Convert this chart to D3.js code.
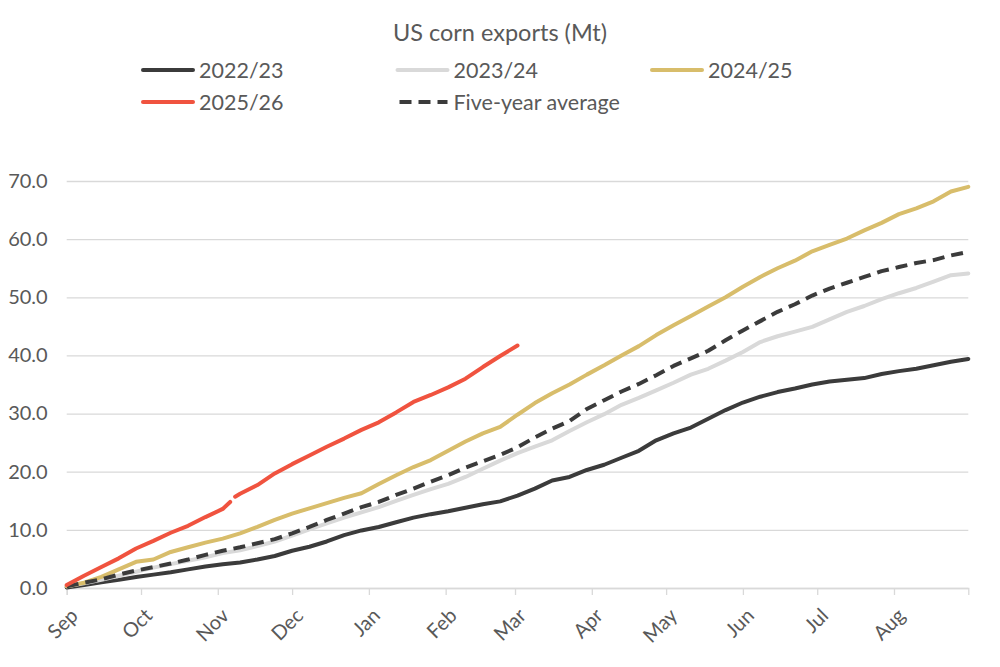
<!DOCTYPE html>
<html lang="en">
<head>
<meta charset="utf-8">
<title>US corn exports</title>
<style>
  body { margin: 0; background: #fff; font-family: Lato, "Open Sans", sans-serif; }
  svg text { fill: #595959; }
</style>
<script src="https://d3js.org/d3.v7.min.js"></script>
</head>
<body>
<div id="chart"></div>
<script>
// Cumulative weekly exports (Mt), week 0 = 1 Sep
const exp2223 = [0.1, 0.5, 1.0, 1.4, 1.9, 2.3, 2.7, 3.2, 3.7, 4.1, 4.4, 4.9, 5.5, 6.4, 7.1, 8.0, 9.1, 9.9, 10.5, 11.3, 12.1, 12.7, 13.2, 13.8, 14.4, 14.9, 15.9, 17.1, 18.5, 19.1, 20.3, 21.2, 22.4, 23.6, 25.4, 26.6, 27.6, 29.1, 30.6, 31.9, 32.9, 33.7, 34.3, 35.0, 35.5, 35.8, 36.1, 36.8, 37.3, 37.7, 38.3, 38.9, 39.4];
const exp2324 = [0.3, 0.8, 1.4, 2.1, 2.8, 3.5, 4.1, 4.7, 5.3, 6.0, 6.5, 7.2, 8.0, 9.0, 10.1, 11.1, 12.1, 13.0, 13.9, 15.0, 16.0, 17.0, 17.9, 19.1, 20.5, 21.9, 23.2, 24.3, 25.4, 27.0, 28.5, 29.9, 31.5, 32.7, 34.0, 35.3, 36.7, 37.7, 39.1, 40.6, 42.3, 43.3, 44.1, 44.9, 46.2, 47.5, 48.5, 49.7, 50.7, 51.6, 52.7, 53.8, 54.1];
const exp2425 = [0.3, 0.9, 1.9, 3.2, 4.5, 4.9, 6.2, 7.0, 7.8, 8.5, 9.4, 10.5, 11.7, 12.8, 13.7, 14.6, 15.5, 16.3, 17.9, 19.4, 20.8, 22.0, 23.6, 25.2, 26.6, 27.7, 29.8, 31.8, 33.5, 35.0, 36.7, 38.3, 40.0, 41.6, 43.5, 45.2, 46.8, 48.4, 50.0, 51.8, 53.5, 55.0, 56.3, 57.9, 59.0, 60.1, 61.5, 62.8, 64.3, 65.3, 66.5, 68.2, 69.0];
const expAvg = [0.3, 0.9, 1.5, 2.3, 3.0, 3.6, 4.2, 4.9, 5.7, 6.4, 7.0, 7.7, 8.4, 9.4, 10.5, 11.7, 12.8, 13.9, 14.8, 16.0, 17.1, 18.3, 19.4, 20.7, 21.8, 22.9, 24.2, 25.9, 27.4, 28.7, 30.8, 32.3, 33.8, 35.1, 36.6, 38.2, 39.5, 40.8, 42.6, 44.3, 45.9, 47.5, 48.8, 50.3, 51.5, 52.5, 53.5, 54.5, 55.2, 55.9, 56.4, 57.2, 57.8];
// 2025/26 has a short break in early November
const weeks2526 = [0, 1, 2, 3, 4, 5, 6, 7, 8, 9, 9.46, 9.6, 9.8, 10, 11, 12, 13, 14, 15, 16, 17, 18, 19, 20, 21, 22, 23, 24, 25, 26];
const exp2526 = [0.5, 2.1, 3.6, 5.1, 6.8, 8.1, 9.5, 10.7, 12.2, 13.6, 14.8, null, 15.7, 16.2, 17.7, 19.7, 21.3, 22.8, 24.3, 25.7, 27.2, 28.5, 30.2, 32.0, 33.2, 34.5, 36.0, 38.0, 39.9, 41.7];

const seriesNames = ['2022/23', '2023/24', '2024/25', '2025/26', 'Five-year average'];
const yTicks = [0, 10, 20, 30, 40, 50, 60, 70];

const start = new Date(2022, 8, 1);
const end = new Date(2023, 7, 31);
const wk = i => d3.timeDay.offset(start, Math.round(i * 7 * 24) / 24);

const width = 1000, height = 667;
const svg = d3.select('#chart').append('svg')
  .attr('width', width).attr('height', height);

const x = d3.scaleTime().domain([start, end]).range([66.7, 968.3]);
const y = d3.scaleLinear().domain([0, 70]).range([588, 181]);

// gridlines + y labels
svg.append('g')
  .attr('transform', 'translate(66.7,0)')
  .call(d3.axisLeft(y).tickValues(yTicks).tickFormat(d3.format('.1f'))
    .tickSize(-(968.3 - 66.7)).tickPadding(19))
  .call(g => g.select('.domain').remove())
  .call(g => g.selectAll('line').attr('stroke', '#d9d9d9').attr('stroke-width', 1.3))
  .call(g => g.selectAll('text').attr('font-size', 20).attr('font-family', 'Lato, sans-serif').style('fill', '#595959'));

// x axis
const xAxis = svg.append('g')
  .attr('transform', 'translate(0,588)')
  .call(d3.axisBottom(x).ticks(d3.timeMonth.every(1)).tickFormat(d3.timeFormat('%b'))
    .tickSizeOuter(0).tickSize(7));
xAxis.select('.domain').attr('stroke', '#d9d9d9').attr('stroke-width', 1.3);
xAxis.selectAll('line').attr('stroke', '#d9d9d9').attr('stroke-width', 1.3);
xAxis.selectAll('text')
  .attr('font-size', 20).attr('font-family', 'Lato, sans-serif').style('fill', '#595959')
  .attr('text-anchor', 'end')
  .attr('dy', '0.35em')
  .attr('transform', 'translate(7,24) rotate(-45)')
  .attr('y', 0).attr('x', 0);

const line = d3.line()
  .defined(d => d[1] != null)
  .x(d => x(wk(d[0])))
  .y(d => y(d[1]));

const lines = [
  { data: exp2223.map((v, i) => [i, v]), color: '#3b3b3b', dash: null },
  { data: exp2324.map((v, i) => [i, v]), color: '#d9d9d9', dash: null },
  { data: exp2425.map((v, i) => [i, v]), color: '#d8bd6b', dash: null },
  { data: expAvg.map((v, i) => [i, v]), color: '#3b3b3b', dash: '12,7' },
  { data: exp2526.map((v, i) => [weeks2526[i], v]), color: '#f0533f', dash: null }
];

svg.append('g').selectAll('path')
  .data(lines)
  .join('path')
  .attr('d', d => line(d.data))
  .attr('fill', 'none')
  .attr('stroke', d => d.color)
  .attr('stroke-width', 4)
  .attr('stroke-linejoin', 'round')
  .attr('stroke-linecap', d => d.dash ? 'butt' : 'round')
  .attr('stroke-dasharray', d => d.dash);

// title
svg.append('text')
  .attr('x', 500).attr('y', 41)
  .attr('text-anchor', 'middle')
  .attr('font-size', 23.5)
  .text('US corn exports (Mt)');

// legend
const legendItems = [
  { name: seriesNames[0], color: '#3b3b3b', dash: null },
  { name: seriesNames[1], color: '#d9d9d9', dash: null },
  { name: seriesNames[2], color: '#d8bd6b', dash: null },
  { name: seriesNames[3], color: '#f0533f', dash: null },
  { name: seriesNames[4], color: '#3b3b3b', dash: '12,7' }
];
const lg = svg.append('g').selectAll('g')
  .data(legendItems)
  .join('g')
  .attr('transform', (d, i) => 'translate(' + (143 + (i % 3) * 254.5) + ',' + (70 + Math.floor(i / 3) * 32) + ')');
lg.append('line')
  .attr('x1', d => d.dash ? 2 : 0).attr('x2', 50)
  .attr('stroke', d => d.color)
  .attr('stroke-width', 4)
  .attr('stroke-linecap', d => d.dash ? 'butt' : 'round')
  .attr('stroke-dasharray', d => d.dash);
lg.append('text')
  .attr('x', 56).attr('dy', '0.35em')
  .attr('font-size', 21.5)
  .text(d => d.name);
</script>
</body>
</html>
